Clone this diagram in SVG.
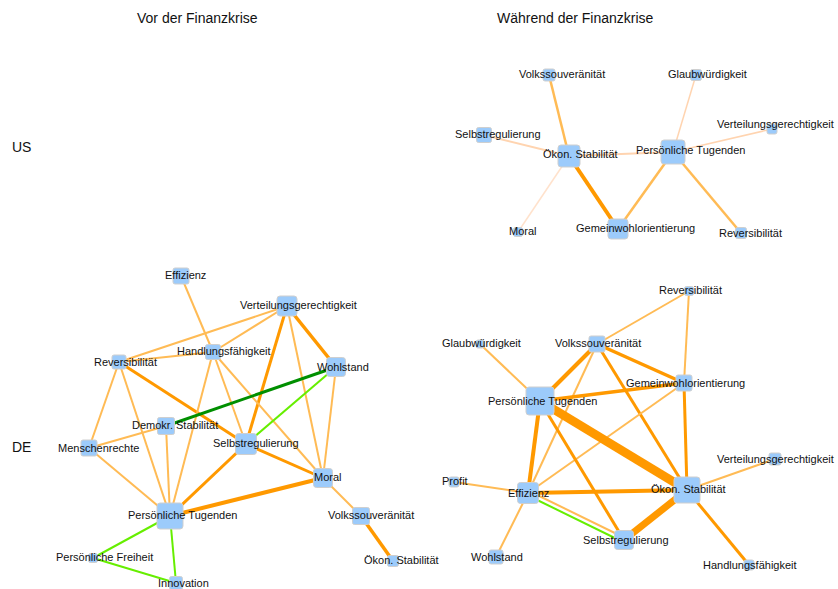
<svg xmlns="http://www.w3.org/2000/svg" width="838" height="589" viewBox="0 0 838 589">
<style>
.n{fill:#9ccbfb;stroke:#cfcfcf;stroke-width:1}
.t{font-family:"Liberation Sans",Arial,sans-serif;font-size:11px;fill:#111}
.h{font-family:"Liberation Sans",Arial,sans-serif;font-size:14px;fill:#111}
.d{stroke:#ff9900}
.l{stroke:#ffbb55}
.p{stroke:#ffd4b0}
.q{stroke:#ffe2cc}
.g{stroke:#008f00}
.lg{stroke:#66ee00}
line{stroke-linecap:butt}
</style>
<rect width="838" height="589" fill="#fff"/>
<g id="headers">
<text class="h" x="137" y="23">Vor der Finanzkrise</text>
<text class="h" x="497" y="23">Während der Finanzkrise</text>
<text class="h" x="12" y="152">US</text>
<text class="h" x="12" y="452">DE</text>
</g>
<g id="connectors">
<!-- US -->
<line class="l" stroke-width="2.5" x1="549" y1="75" x2="569" y2="156"/>
<line class="p" stroke-width="2" x1="484" y1="135" x2="569" y2="156"/>
<line class="p" stroke-width="2" x1="569" y1="156" x2="673" y2="152"/>
<line class="q" stroke-width="1.5" x1="569" y1="156" x2="518" y2="232"/>
<line class="d" stroke-width="4" x1="569" y1="156" x2="618" y2="229"/>
<line class="l" stroke-width="2.5" x1="673" y1="152" x2="618" y2="229"/>
<line class="p" stroke-width="1.5" x1="673" y1="152" x2="696" y2="75"/>
<line class="p" stroke-width="1.5" x1="673" y1="152" x2="772" y2="129"/>
<line class="l" stroke-width="2.5" x1="673" y1="152" x2="741" y2="233"/>
<!-- DE left -->
<line class="l" stroke-width="2" x1="181" y1="276" x2="213" y2="352"/>
<line class="l" stroke-width="2" x1="287" y1="306" x2="119" y2="362"/>
<line class="l" stroke-width="2" x1="287" y1="306" x2="213" y2="352"/>
<line class="d" stroke-width="3" x1="287" y1="306" x2="246" y2="444"/>
<line class="d" stroke-width="3.5" x1="287" y1="306" x2="336" y2="367"/>
<line class="l" stroke-width="2" x1="287" y1="306" x2="323" y2="478"/>
<line class="l" stroke-width="2" x1="119" y1="362" x2="213" y2="352"/>
<line class="d" stroke-width="3" x1="119" y1="362" x2="246" y2="444"/>
<line class="l" stroke-width="2" x1="119" y1="362" x2="89" y2="448"/>
<line class="l" stroke-width="2" x1="119" y1="362" x2="170" y2="516"/>
<line class="l" stroke-width="2" x1="213" y1="352" x2="170" y2="516"/>
<line class="l" stroke-width="2" x1="213" y1="352" x2="246" y2="444"/>
<line class="l" stroke-width="2" x1="213" y1="352" x2="323" y2="478"/>
<line class="g" stroke-width="3" x1="336" y1="367" x2="166" y2="426"/>
<line class="lg" stroke-width="2" x1="336" y1="367" x2="246" y2="444"/>
<line class="l" stroke-width="2" x1="336" y1="367" x2="323" y2="478"/>
<line class="l" stroke-width="2" x1="166" y1="426" x2="89" y2="448"/>
<line class="l" stroke-width="2" x1="166" y1="426" x2="170" y2="516"/>
<line class="l" stroke-width="2" x1="89" y1="448" x2="170" y2="516"/>
<line class="d" stroke-width="3" x1="246" y1="444" x2="170" y2="516"/>
<line class="d" stroke-width="3" x1="246" y1="444" x2="323" y2="478"/>
<line class="d" stroke-width="4" x1="323" y1="478" x2="170" y2="516"/>
<line class="l" stroke-width="2" x1="323" y1="478" x2="361" y2="516"/>
<line class="d" stroke-width="3.5" x1="361" y1="516" x2="393" y2="561"/>
<line class="lg" stroke-width="2" x1="170" y1="516" x2="93" y2="558"/>
<line class="lg" stroke-width="2" x1="170" y1="516" x2="176" y2="583"/>
<line class="lg" stroke-width="2" x1="93" y1="558" x2="176" y2="583"/>
<!-- DE right -->
<line class="l" stroke-width="2" x1="689" y1="291" x2="597" y2="344"/>
<line class="l" stroke-width="2" x1="689" y1="291" x2="684" y2="383"/>
<line class="l" stroke-width="2" x1="480" y1="344" x2="540" y2="401"/>
<line class="d" stroke-width="4" x1="597" y1="344" x2="540" y2="401"/>
<line class="d" stroke-width="3.5" x1="597" y1="344" x2="684" y2="383"/>
<line class="l" stroke-width="2" x1="597" y1="344" x2="528" y2="493"/>
<line class="d" stroke-width="3" x1="597" y1="344" x2="687" y2="490"/>
<line class="d" stroke-width="3.5" x1="684" y1="383" x2="540" y2="401"/>
<line class="l" stroke-width="2" x1="684" y1="383" x2="528" y2="493"/>
<line class="d" stroke-width="3" x1="684" y1="383" x2="687" y2="490"/>
<line class="d" stroke-width="4" x1="540" y1="401" x2="528" y2="493"/>
<line class="d" stroke-width="9" x1="540" y1="401" x2="687" y2="490"/>
<line class="d" stroke-width="3" x1="540" y1="401" x2="624" y2="540"/>
<line class="d" stroke-width="4" x1="528" y1="493" x2="687" y2="490"/>
<line class="l" stroke-width="2" x1="529" y1="491" x2="625" y2="538"/>
<line class="lg" stroke-width="2" x1="527" y1="495" x2="623" y2="542"/>
<line class="l" stroke-width="2" x1="528" y1="493" x2="454" y2="482"/>
<line class="l" stroke-width="2" x1="528" y1="493" x2="496" y2="557"/>
<line class="d" stroke-width="7" x1="687" y1="490" x2="624" y2="540"/>
<line class="l" stroke-width="2" x1="687" y1="490" x2="775" y2="459"/>
<line class="d" stroke-width="3" x1="687" y1="490" x2="749" y2="565"/>
</g>
<!-- US nodes -->
<g id="us_volks"><rect class="n" x="543" y="69" width="12" height="12" rx="2"/><text class="t" x="519" y="78">Volkssouveränität</text></g>
<g id="us_glaub"><rect class="n" x="690.5" y="69.5" width="11" height="11" rx="2"/><text class="t" x="668" y="78">Glaubwürdigkeit</text></g>
<g id="us_selbst"><rect class="n" x="476.5" y="127.5" width="15" height="15" rx="2"/><text class="t" x="455" y="138">Selbstregulierung</text></g>
<g id="us_vert"><rect class="n" x="767" y="124" width="10" height="10" rx="2"/><text class="t" x="717" y="128">Verteilungsgerechtigkeit</text></g>
<g id="us_oekon"><rect class="n" x="558" y="145" width="22" height="22" rx="3"/><text class="t" x="543" y="158">Ökon. Stabilität</text></g>
<g id="us_pers"><rect class="n" x="661" y="140" width="24" height="24" rx="3"/><text class="t" x="636" y="154">Persönliche Tugenden</text></g>
<g id="us_moral"><rect class="n" x="513.5" y="227.5" width="9" height="9" rx="2"/><text class="t" x="509" y="235">Moral</text></g>
<g id="us_gemein"><rect class="n" x="608" y="219" width="20" height="20" rx="3"/><text class="t" x="576" y="232">Gemeinwohlorientierung</text></g>
<g id="us_rev"><rect class="n" x="735.5" y="227.5" width="11" height="11" rx="2"/><text class="t" x="719" y="237">Reversibilität</text></g>
<!-- DE left nodes -->
<g id="de1_eff"><rect class="n" x="173" y="268" width="16" height="16" rx="2"/><text class="t" x="165" y="279">Effizienz</text></g>
<g id="de1_vert"><rect class="n" x="277" y="296" width="20" height="20" rx="3"/><text class="t" x="240" y="309">Verteilungsgerechtigkeit</text></g>
<g id="de1_hand"><rect class="n" x="205.5" y="344.5" width="15" height="15" rx="2"/><text class="t" x="177" y="355">Handlungsfähigkeit</text></g>
<g id="de1_rev"><rect class="n" x="112" y="355" width="14" height="14" rx="2"/><text class="t" x="94" y="366">Reversibilität</text></g>
<g id="de1_wohl"><rect class="n" x="326.5" y="357.5" width="19" height="19" rx="3"/><text class="t" x="317" y="371">Wohlstand</text></g>
<g id="de1_demo"><rect class="n" x="157.5" y="417.5" width="17" height="17" rx="2"/><text class="t" x="132" y="429">Demokr. Stabilität</text></g>
<g id="de1_selbst"><rect class="n" x="235.5" y="433.5" width="21" height="21" rx="3"/><text class="t" x="213" y="447">Selbstregulierung</text></g>
<g id="de1_moral"><rect class="n" x="313.5" y="468.5" width="19" height="19" rx="3"/><text class="t" x="314" y="481">Moral</text></g>
<g id="de1_mensch"><rect class="n" x="81" y="440" width="16" height="16" rx="2"/><text class="t" x="58" y="452">Menschenrechte</text></g>
<g id="de1_pers"><rect class="n" x="157" y="503" width="26" height="26" rx="3"/><text class="t" x="128" y="519">Persönliche Tugenden</text></g>
<g id="de1_volks"><rect class="n" x="352.5" y="507.5" width="17" height="17" rx="2"/><text class="t" x="328" y="519">Volkssouveränität</text></g>
<g id="de1_freih"><rect class="n" x="88.5" y="553.5" width="9" height="9" rx="2"/><text class="t" x="56" y="561">Persönliche Freiheit</text></g>
<g id="de1_innov"><rect class="n" x="169.5" y="576.5" width="13" height="13" rx="2"/><text class="t" x="158" y="587">Innovation</text></g>
<g id="de1_oekon"><rect class="n" x="387.5" y="555.5" width="11" height="11" rx="2"/><text class="t" x="364" y="564">Ökon. Stabilität</text></g>
<!-- DE right nodes -->
<g id="de2_rev"><rect class="n" x="684.5" y="286.5" width="9" height="9" rx="2"/><text class="t" x="659" y="294">Reversibilität</text></g>
<g id="de2_glaub"><rect class="n" x="476" y="340" width="8" height="8" rx="2"/><text class="t" x="442" y="347">Glaubwürdigkeit</text></g>
<g id="de2_volks"><rect class="n" x="589" y="336" width="16" height="16" rx="2"/><text class="t" x="555" y="347">Volkssouveränität</text></g>
<g id="de2_gemein"><rect class="n" x="676" y="375" width="16" height="16" rx="2"/><text class="t" x="626" y="387">Gemeinwohlorientierung</text></g>
<g id="de2_pers"><rect class="n" x="526" y="387" width="28" height="28" rx="3"/><text class="t" x="488" y="405">Persönliche Tugenden</text></g>
<g id="de2_profit"><rect class="n" x="449" y="477" width="10" height="10" rx="2"/><text class="t" x="442" y="485">Profit</text></g>
<g id="de2_eff"><rect class="n" x="517.5" y="482.5" width="21" height="21" rx="3"/><text class="t" x="508" y="497">Effizienz</text></g>
<g id="de2_oekon"><rect class="n" x="674" y="477" width="26" height="26" rx="3"/><text class="t" x="651" y="493">Ökon. Stabilität</text></g>
<g id="de2_vert"><rect class="n" x="769" y="453" width="12" height="12" rx="2"/><text class="t" x="717" y="463">Verteilungsgerechtigkeit</text></g>
<g id="de2_selbst"><rect class="n" x="614.5" y="530.5" width="19" height="19" rx="3"/><text class="t" x="583" y="544">Selbstregulierung</text></g>
<g id="de2_wohl"><rect class="n" x="489" y="550" width="14" height="14" rx="2"/><text class="t" x="471" y="561">Wohlstand</text></g>
<g id="de2_hand"><rect class="n" x="744" y="560" width="10" height="10" rx="2"/><text class="t" x="703" y="569">Handlungsfähigkeit</text></g>
</svg>
